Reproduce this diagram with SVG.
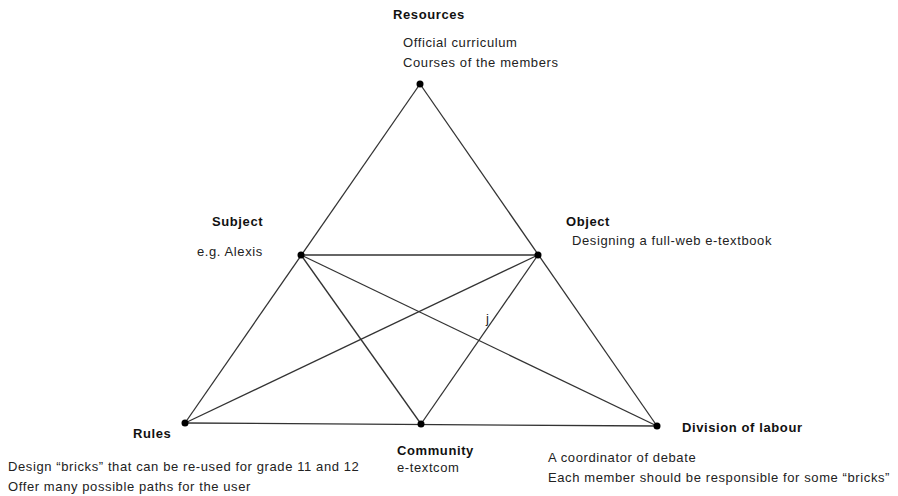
<svg xmlns="http://www.w3.org/2000/svg" width="898" height="496" viewBox="0 0 898 496">
<style>
.t{font-family:"Liberation Sans",Arial,sans-serif;font-size:13px;letter-spacing:0.6px;fill:#222}
.b{font-family:"Liberation Sans",Arial,sans-serif;font-size:13px;letter-spacing:0.6px;font-weight:bold;fill:#111}
.e{stroke:#333;stroke-width:1.3;fill:none}
.d{fill:#000}
</style>
<rect width="898" height="496" fill="#fff"/>
<g id="connectors">
<line class="e" x1="420" y1="84" x2="185" y2="423"/>
<line class="e" x1="420" y1="84" x2="657" y2="426"/>
<line class="e" x1="301" y1="255" x2="538" y2="255"/>
<line class="e" x1="185" y1="423" x2="657" y2="426"/>
<line class="e" x1="301" y1="255" x2="421" y2="424"/>
<line class="e" x1="301" y1="255" x2="657" y2="426"/>
<line class="e" x1="538" y1="255" x2="185" y2="423"/>
<line class="e" x1="538" y1="255" x2="421" y2="424"/>
</g>
<g id="resources">
<circle class="d" cx="420" cy="84" r="3.5"/>
<text class="b" x="393" y="19">Resources</text>
<text class="t" x="403" y="47">Official curriculum</text>
<text class="t" x="403" y="67">Courses of the members</text>
</g>
<g id="subject">
<circle class="d" cx="301" cy="255" r="3.5"/>
<text class="b" x="212" y="226">Subject</text>
<text class="t" x="197" y="256">e.g. Alexis</text>
</g>
<g id="object">
<circle class="d" cx="538" cy="255" r="3.5"/>
<text class="b" x="566" y="226">Object</text>
<text class="t" x="572" y="245">Designing a full-web e-textbook</text>
</g>
<g id="rules">
<circle class="d" cx="185" cy="423" r="3.5"/>
<text class="b" x="133" y="438">Rules</text>
<text class="t" x="8" y="471">Design “bricks” that can be re-used for grade 11 and 12</text>
<text class="t" x="8" y="491">Offer many possible paths for the user</text>
</g>
<g id="community">
<circle class="d" cx="421" cy="424" r="3.5"/>
<text class="b" x="397" y="455">Community</text>
<text class="t" x="397" y="472">e-textcom</text>
</g>
<g id="division">
<circle class="d" cx="657" cy="426" r="3.5"/>
<text class="b" x="682" y="432">Division of labour</text>
<text class="t" x="548" y="462">A coordinator of debate</text>
<text class="t" x="548" y="482">Each member should be responsible for some “bricks”</text>
</g>
<text class="t" x="486" y="323" font-size="11" fill="#666">j</text>
</svg>
